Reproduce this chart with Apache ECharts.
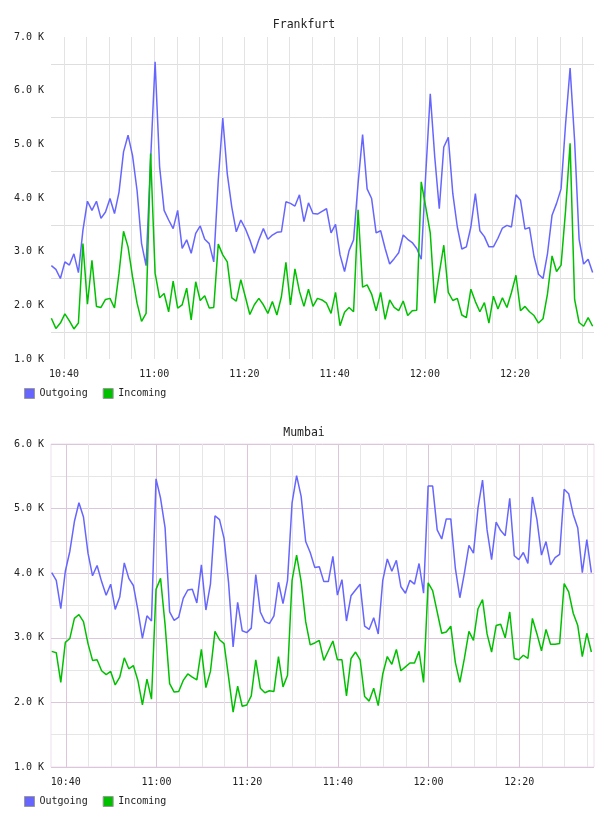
<!DOCTYPE html>
<html>
<head>
<meta charset="utf-8">
<script src="https://cdn.jsdelivr.net/npm/echarts@6/dist/echarts.min.js"></script>
<style>
  html, body { margin: 0; padding: 0; background: #fff; }
  #main { width: 608px; height: 816px; }
</style>
</head>
<body>
<div id="main"></div>
<script>
// minutes after 10:00 of the first sample, one sample per minute
var frankfurtStart = 37.2;
var mumbaiStart = 36.9;
var seriesNames = ['Outgoing', 'Incoming'];

var frankfurtOut = [
    2740, 2670, 2500, 2810, 2750, 2960, 2610, 3400, 3940, 3770,
    3940, 3620, 3740, 3990, 3710, 4110, 4860, 5170, 4790, 4140,
    3150, 2740, 4700, 6540, 4580, 3770, 3590, 3430, 3770, 3060,
    3220, 2970, 3340, 3480, 3230, 3150, 2810, 4330, 5490, 4450,
    3830, 3370, 3590, 3430, 3220, 2970, 3220, 3430, 3230, 3310,
    3360, 3370, 3930, 3900, 3850, 4060, 3560, 3910, 3710, 3700,
    3750, 3800, 3350, 3510, 2940, 2630, 3020, 3220, 4270, 5180,
    4170, 3990, 3350, 3390, 3060, 2770, 2870, 2980, 3310, 3230,
    3170, 3060, 2860, 4450, 5940, 4760, 3800, 4950, 5130, 4080,
    3460, 3050, 3090, 3460, 4080, 3390, 3280, 3090, 3090, 3250,
    3440, 3490, 3460, 4060, 3960, 3420, 3450, 2910, 2580, 2500,
    2970, 3680, 3900, 4170, 5380, 6420, 5070, 3230, 2770, 2860,
    2610
];
var frankfurtIn = [
    1760, 1570, 1670, 1840, 1710, 1560, 1670, 3150, 2020, 2840,
    1980, 1960, 2110, 2130, 1950, 2600, 3380, 3090, 2530, 2040,
    1700, 1850, 4830, 2600, 2140, 2220, 1880, 2450, 1950, 2010,
    2320, 1730, 2440, 2090, 2180, 1950, 1960, 3140, 2940, 2810,
    2140, 2080, 2480, 2160, 1830, 2010, 2130, 2010, 1850, 2070,
    1820, 2160, 2800, 2010, 2680, 2260, 1980, 2300, 1980, 2130,
    2100, 2040, 1850, 2240, 1620, 1870, 1960, 1880, 3780, 2340,
    2380, 2210, 1900, 2240, 1740, 2100, 1960, 1900, 2080, 1810,
    1900, 1910, 4300, 3830, 3350, 2040, 2600, 3120, 2240, 2090,
    2130, 1820, 1770, 2300, 2070, 1880, 2050, 1670, 2170, 1930,
    2140, 1960, 2240, 2560, 1900, 1980, 1880, 1810, 1670, 1750,
    2220, 2920, 2630, 2750, 3770, 5020, 2110, 1680, 1610, 1770,
    1610
];
var mumbaiOut = [
    4010, 3890, 3450, 4030, 4340, 4800, 5090, 4870, 4310, 3960,
    4120, 3870, 3660, 3830, 3440, 3630, 4160, 3920, 3810, 3430,
    2990, 3340, 3260, 5460, 5160, 4700, 3400, 3270, 3320, 3610,
    3740, 3750, 3540, 4130, 3430, 3830, 4890, 4830, 4540, 3850,
    2860, 3550, 3110, 3080, 3150, 3980, 3400, 3250, 3220, 3340,
    3860, 3530, 3890, 5090, 5510, 5190, 4490, 4320, 4090, 4100,
    3870, 3870, 4260, 3660, 3900, 3260, 3650, 3740, 3830, 3180,
    3130, 3310, 3060, 3890, 4220, 4030, 4200, 3790, 3690, 3890,
    3830, 4150, 3690, 5350, 5350, 4670, 4530, 4840, 4840, 4080,
    3620, 4000, 4430, 4310, 5010, 5440, 4670, 4210, 4790, 4660,
    4580, 5160, 4270, 4210, 4320, 4150, 5180, 4830, 4280, 4490,
    4130, 4240, 4290, 5300, 5230, 4910, 4700, 4010, 4520, 4010
];
var mumbaiIn = [
    2790, 2770, 2310, 2930, 2990, 3300, 3360, 3250, 2910, 2650,
    2660, 2490, 2430, 2480, 2270, 2390, 2690, 2520, 2570, 2340,
    1960, 2360, 2050, 3750, 3920, 3200, 2290, 2160, 2170, 2340,
    2440, 2390, 2350, 2820, 2230, 2480, 3100, 2970, 2910, 2390,
    1850, 2250, 1940, 1960, 2100, 2660, 2220, 2150, 2180, 2170,
    2710, 2240, 2420, 3890, 4280, 3870, 3250, 2890, 2920, 2960,
    2650, 2800, 2950, 2660, 2660, 2100, 2680, 2780, 2660, 2090,
    2020, 2220, 1950, 2440, 2710, 2590, 2820, 2490, 2550, 2610,
    2610, 2790, 2310, 3850, 3730, 3400, 3070, 3090, 3180, 2620,
    2310, 2680, 3100, 2960, 3450, 3590, 3060, 2780, 3190, 3210,
    3000, 3400, 2680, 2660, 2730, 2680, 3300, 3060, 2800, 3130,
    2900, 2900, 2910, 3840, 3710, 3380, 3190, 2710, 3070, 2780
];

var mono = '"DejaVu Sans Mono", monospace';
var blue = '#6666ff';
var green = '#00c000';

function withTime(values, start) {
    return values.map(function (v, i) { return [start + i, v]; });
}

function hhmm(m) {
    var h = 10 + Math.floor(m / 60);
    var mm = Math.round(m % 60);
    return h + ':' + (mm < 10 ? '0' : '') + mm;
}

function xAxisFor(gridIndex, min, max, majorColor, minorColor) {
    return {
        type: 'value', gridIndex: gridIndex, min: min, max: max, splitNumber: 6,
        axisLine: {show: false},
        axisTick: {show: false},
        axisLabel: {
            margin: 10, fontFamily: mono, fontSize: 10, color: '#222',
            formatter: function (v) {
                return Math.abs(v % 20) < 1e-6 ? hhmm(v) : '';
            }
        },
        splitLine: {show: true, showMinLine: false, showMaxLine: false, lineStyle: {color: majorColor, width: 1}},
        minorTick: {show: false, splitNumber: 4},
        minorSplitLine: {show: true, lineStyle: {color: minorColor, width: 1}}
    };
}

function yAxisFor(gridIndex, max, majorColor, minorColor) {
    return {
        type: 'value', gridIndex: gridIndex, min: 1000, max: max, interval: 1000,
        axisLine: {show: false},
        axisTick: {show: false},
        axisLabel: {
            margin: 7, fontFamily: mono, fontSize: 10, color: '#222',
            formatter: function (v) { return (v / 1000).toFixed(1) + ' K'; }
        },
        splitLine: {show: majorColor !== null, lineStyle: {color: majorColor || '#fff', width: 1}},
        minorTick: {show: false, splitNumber: 2},
        minorSplitLine: {show: true, lineStyle: {color: minorColor, width: 1}}
    };
}

function legendAt(top) {
    return {
        data: seriesNames, left: 24, top: top, padding: 0,
        icon: 'rect', itemWidth: 10, itemHeight: 10, itemGap: 15,
        selectedMode: false,
        itemStyle: {borderColor: '#999', borderWidth: 1},
        textStyle: {fontFamily: mono, fontSize: 10, color: '#222'}
    };
}

function lineSeries(name, data, color, index) {
    return {
        name: name, type: 'line', data: data,
        xAxisIndex: index, yAxisIndex: index,
        showSymbol: false, symbol: 'none',
        color: color,
        lineStyle: {color: color, width: 1.5}
    };
}

var myChart = echarts.init(document.getElementById('main'));
myChart.setOption({
    animation: false,
    backgroundColor: '#fff',
    title: [
        {text: 'Frankfurt', left: 'center', top: 14,
            textStyle: {fontFamily: mono, fontSize: 11.5, fontWeight: 'normal', color: '#222'}},
        {text: 'Mumbai', left: 'center', top: 422,
            textStyle: {fontFamily: mono, fontSize: 11.5, fontWeight: 'normal', color: '#222'}}
    ],
    legend: [legendAt(388), legendAt(796)],
    grid: [
        {left: 51, right: 14, top: 37, height: 322},
        {left: 51, right: 14, top: 444, height: 323, show: true, borderColor: '#eddfed', borderWidth: 1}
    ],
    xAxis: [
        xAxisFor(0, 37.12, 157.5, '#e3e3e3', '#e3e3e3'),
        xAxisFor(1, 36.74, 156.48, '#dcc6dc', '#e6e6e6')
    ],
    yAxis: [
        yAxisFor(0, 7000, null, '#dedede'),
        yAxisFor(1, 6000, '#dcc6dc', '#e6e6e6')
    ],
    series: [
        lineSeries('Outgoing', withTime(frankfurtOut, frankfurtStart), blue, 0),
        lineSeries('Incoming', withTime(frankfurtIn, frankfurtStart), green, 0),
        lineSeries('Outgoing', withTime(mumbaiOut, mumbaiStart), blue, 1),
        lineSeries('Incoming', withTime(mumbaiIn, mumbaiStart), green, 1)
    ]
});
</script>
</body>
</html>
